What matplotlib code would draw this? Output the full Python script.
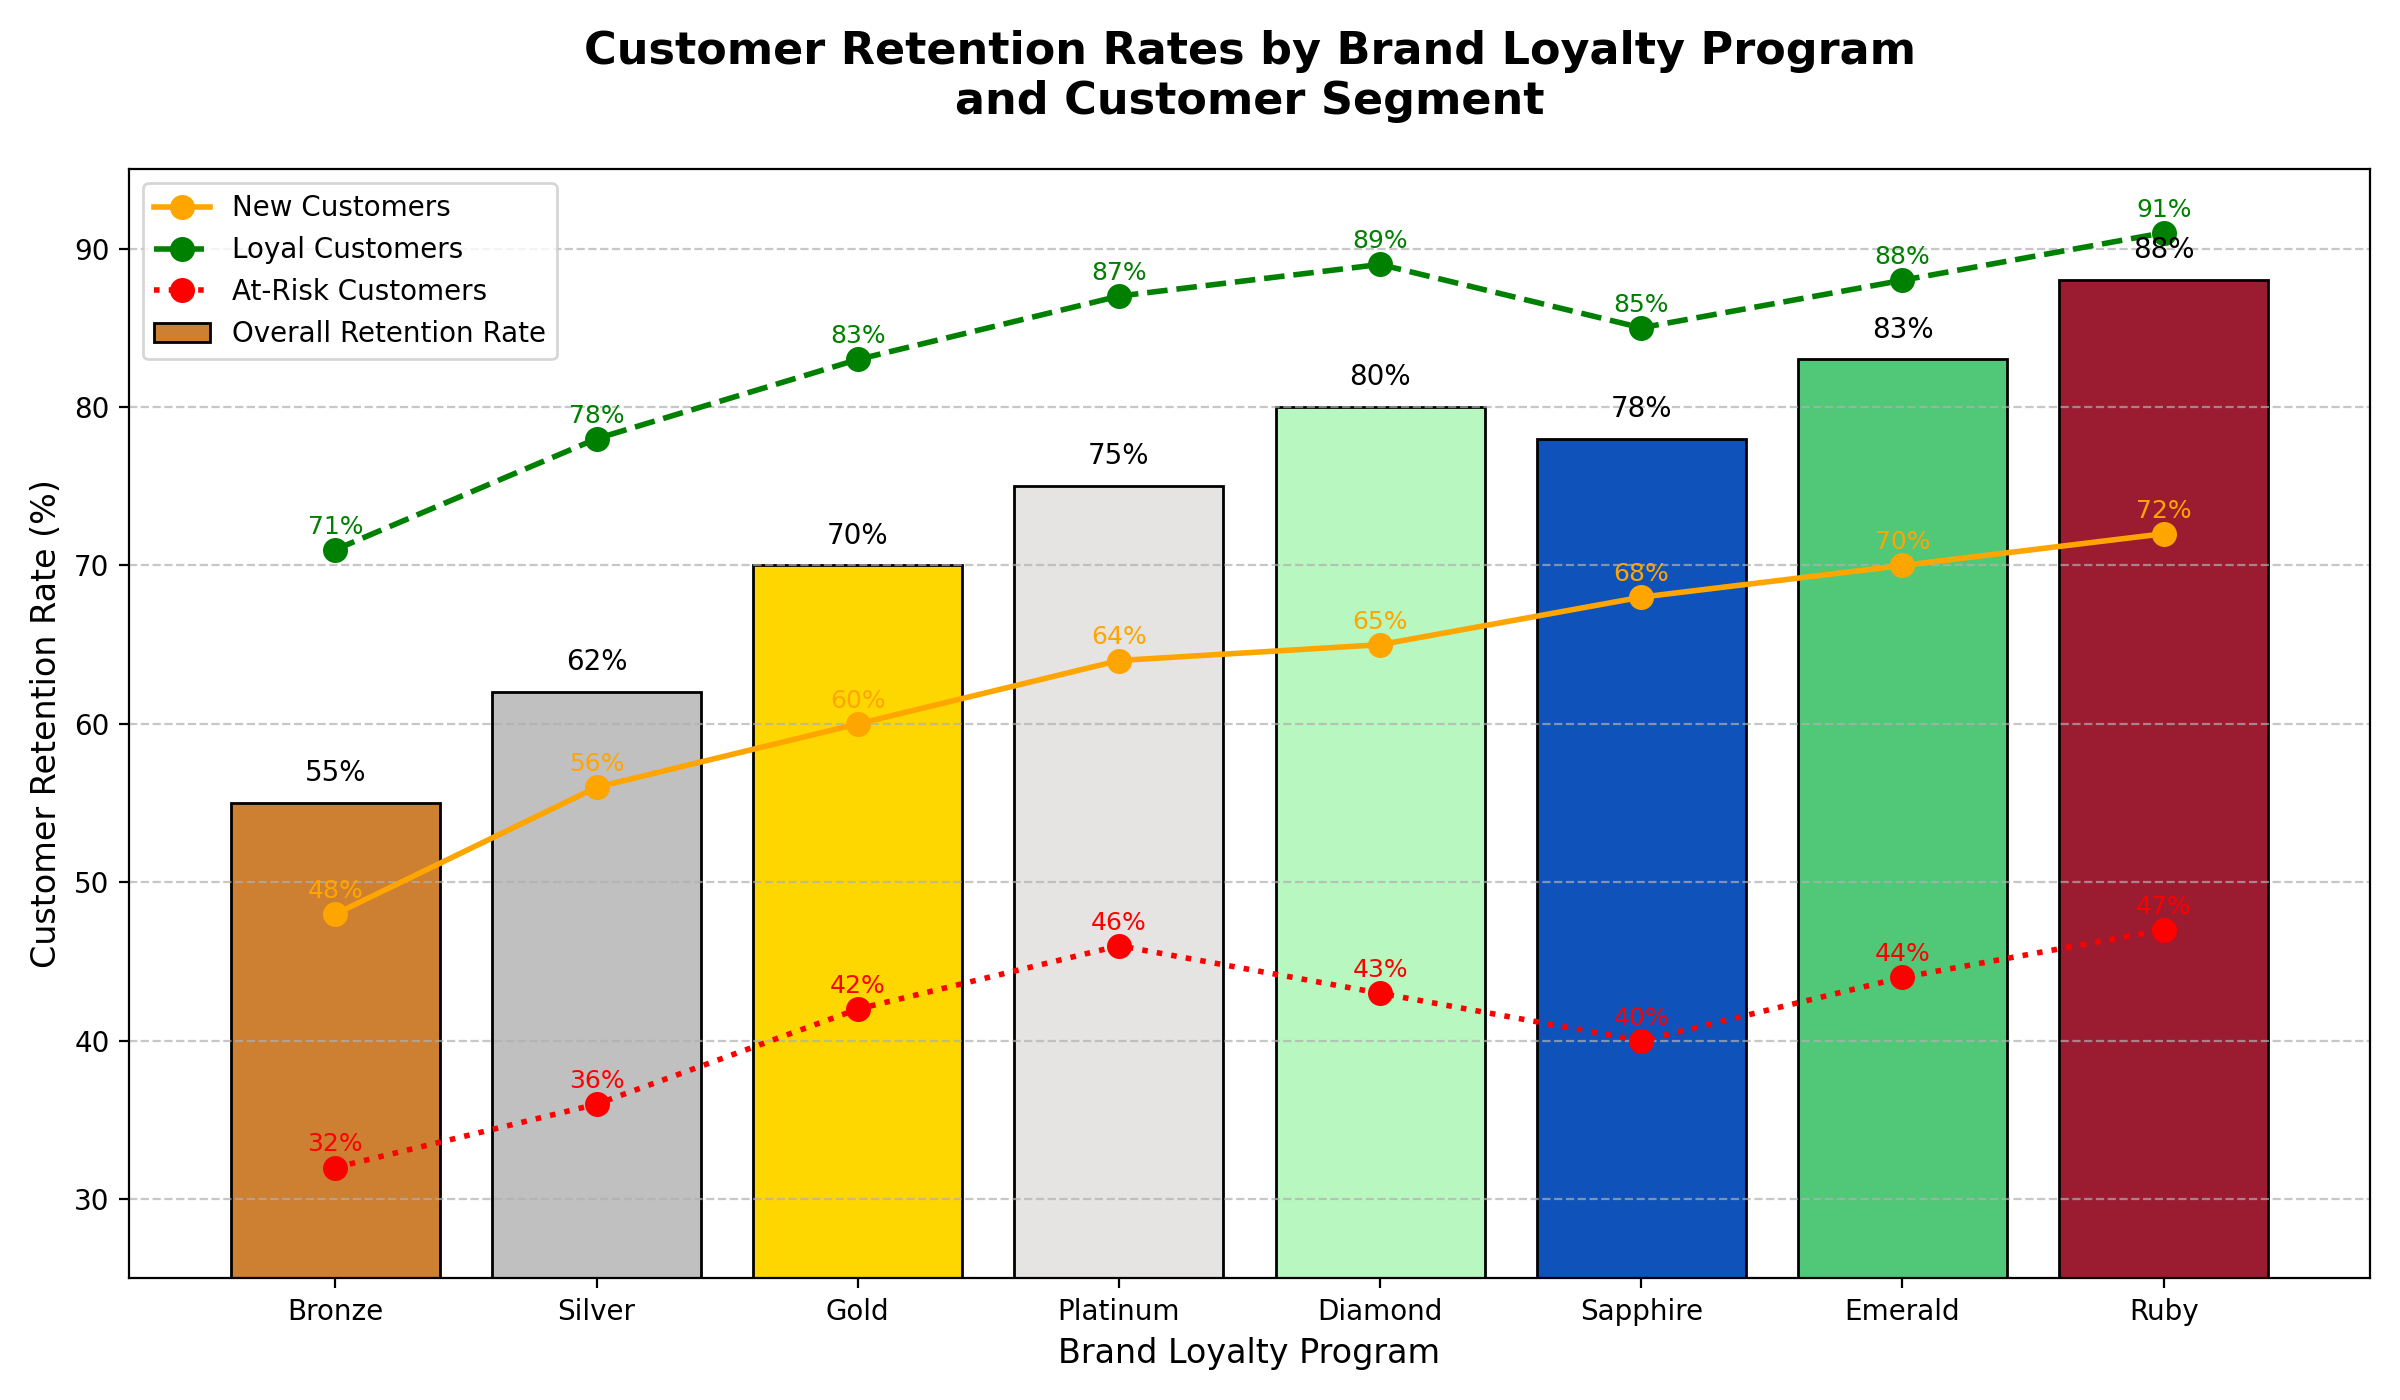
import matplotlib
matplotlib.use("Agg")
import matplotlib.pyplot as plt
import numpy as np

programs = ['Bronze', 'Silver', 'Gold', 'Platinum', 'Diamond', 'Sapphire', 'Emerald', 'Ruby']
overall = [55, 62, 70, 75, 80, 78, 83, 88]
new_cust = [48, 56, 60, 64, 65, 68, 70, 72]
loyal_cust = [71, 78, 83, 87, 89, 85, 88, 91]
at_risk = [32, 36, 42, 46, 43, 40, 44, 47]
bar_colors = ['#CD7F32', '#C0C0C0', '#FFD700', '#E5E4E2', '#B8F8C0', '#0F52BA', '#50C878', '#9B1B30']

fig, ax = plt.subplots(figsize=(12, 7), dpi=200)
x = np.arange(len(programs))

bars = ax.bar(x, overall, width=0.8, color=bar_colors, edgecolor='black', linewidth=1,
              label='Overall Retention Rate')
for xi, h in zip(x, overall):
    ax.text(xi, h + 1, f'{h}%', ha='center', va='bottom', fontsize=10)

series = [(new_cust, 'New Customers', 'orange', '-'),
          (loyal_cust, 'Loyal Customers', 'green', '--'),
          (at_risk, 'At-Risk Customers', 'red', ':')]
for vals, name, col, ls in series:
    ax.plot(x, vals, marker='o', color=col, linestyle=ls, linewidth=2, markersize=8, label=name)
    for xi, v in zip(x, vals):
        ax.annotate(f'{v}%', (xi, v), xytext=(0, 4), textcoords='offset points',
                    ha='center', va='bottom', fontsize=9, color=col)

ax.set_ylim(25, 95)
ax.set_xticks(x)
ax.set_xticklabels(programs)
ax.set_xlabel('Brand Loyalty Program', fontsize=12)
ax.set_ylabel('Customer Retention Rate (%)', fontsize=12)
ax.set_title('Customer Retention Rates by Brand Loyalty Program\nand Customer Segment',
             fontsize=16, fontweight='bold', pad=20)
ax.grid(axis='y', linestyle='--', alpha=0.7)
ax.legend(loc='upper left', fontsize=10)

plt.tight_layout()
plt.savefig('out.png', dpi=200)
